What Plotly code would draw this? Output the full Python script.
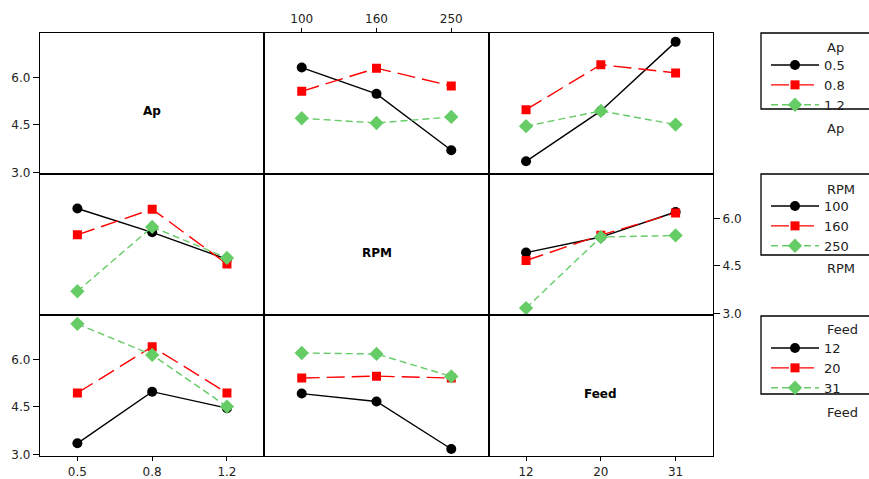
import plotly.graph_objects as go

factors = ["Ap", "RPM", "Feed"]
ap_levels = ["0.5", "0.8", "1.2"]
rpm_levels = ["100", "160", "250"]
feed_levels = ["12", "20", "31"]
levels = [ap_levels, rpm_levels, feed_levels]

# mean response tables: rows = levels of first factor, columns = levels of second factor
ap_rpm = [[6.31, 5.48, 3.70],
          [5.56, 6.29, 5.73],
          [4.71, 4.56, 4.75]]
ap_feed = [[3.35, 4.94, 7.12],
           [4.98, 6.40, 6.14],
           [4.46, 4.94, 4.51]]
rpm_feed = [[4.92, 5.41, 6.20],
            [4.67, 5.47, 6.17],
            [3.17, 5.41, 5.46]]
y_ticks = [3.0, 4.5, 6.0]

tables = {(0, 1): ap_rpm, (0, 2): ap_feed, (1, 2): rpm_feed}


def table(rf, cf):
    if (rf, cf) in tables:
        return tables[(rf, cf)]
    t = tables[(cf, rf)]
    return [[t[j][i] for j in range(3)] for i in range(3)]


W, H = 869, 479
ML, MR, MT, MB = 40, 156, 33, 23
PW, PH = W - ML - MR, H - MT - MB


def px(x):
    return (x - ML) / PW


def py(y):
    return (H - MB - y) / PH


colors = ["black", "#FF0000", "#66CC66"]
symbols = ["circle", "square", "diamond"]
dashes = ["solid", "18px,7px", "7px,4px"]
msizes = [10, 9, 11]
legend_names = ["legend", "legend2", "legend3"]

FONT = "DejaVu Sans"
TXT = "#222"
fig = go.Figure()
layout = {}

for r in range(3):
    for c in range(3):
        k = r * 3 + c + 1
        xa = "xaxis" if k == 1 else f"xaxis{k}"
        ya = "yaxis" if k == 1 else f"yaxis{k}"
        xr = "x" if k == 1 else f"x{k}"
        yr = "y" if k == 1 else f"y{k}"
        show_x = (r == 2 and c in (0, 2)) or (r == 0 and c == 1)
        show_y = (c == 0 and r in (0, 2)) or (c == 2 and r == 1)
        layout[xa] = dict(
            domain=[c / 3, (c + 1) / 3], anchor=yr, type="category",
            categoryorder="array", categoryarray=levels[c],
            range=[-0.5, 2.5], showline=True, mirror=True, linecolor="black",
            linewidth=1.3, showgrid=False, zeroline=False, automargin=False,
            showticklabels=show_x, ticks="outside" if show_x else "",
            ticklen=4, tickcolor="black", side="top" if (r == 0 and c == 1) else "bottom",
            tickfont=dict(family=FONT, size=12, color=TXT),
        )
        layout[ya] = dict(
            domain=[1 - (r + 1) / 3, 1 - r / 3], anchor=xr,
            range=[2.95, 7.4], showline=True, mirror=True, linecolor="black",
            linewidth=1.3, showgrid=False, zeroline=False, automargin=False,
            tickvals=y_ticks, tickformat=".1f",
            showticklabels=show_y, ticks="outside" if show_y else "",
            ticklen=6, tickcolor="black", side="right" if (c == 2 and r == 1) else "left",
            tickfont=dict(family=FONT, size=12, color=TXT),
        )
        if r == c:
            # invisible trace so the empty diagonal panel is drawn
            fig.add_trace(go.Scatter(
                x=levels[c], y=[None, None, None], xaxis=xr, yaxis=yr,
                mode="markers", showlegend=False, hoverinfo="skip",
            ))
            fig.add_annotation(
                xref=f"{xr} domain", yref=f"{yr} domain", x=0.5, y=0.5, yshift=-8,
                text=f"<b>{factors[r]}</b>", showarrow=False,
                font=dict(family=FONT, size=12, color="black"),
            )
            continue
        t = table(r, c)
        first = (c == 0) or (r == 0 and c == 1)
        for i in range(3):
            fig.add_trace(go.Scatter(
                x=levels[c], y=t[i], xaxis=xr, yaxis=yr, mode="lines+markers",
                name=levels[r][i], legend=legend_names[r], showlegend=first,
                line=dict(color=colors[i], width=1.4, dash=dashes[i]),
                marker=dict(color=colors[i], symbol=symbols[i], size=msizes[i]),
            ))

# legend boxes (pixel positions in the picture)
box_top = [33, 174, 316]
box_bot = [109, 255, 394]
title_y = [47, 189, 329]
label_y = [128, 268, 412]
legend_top = [50, 191, 333]

for r in range(3):
    layout[legend_names[r]] = dict(
        xref="paper", yref="paper",
        x=px(766), xanchor="left", y=py(legend_top[r]), yanchor="top",
        borderwidth=0, bgcolor="rgba(0,0,0,0)", itemwidth=48,
        font=dict(family=FONT, size=13, color=TXT),
        traceorder="normal", tracegroupgap=0,
    )
    fig.add_shape(
        type="rect", xref="paper", yref="paper",
        x0=px(761), x1=px(900), y0=py(box_bot[r]), y1=py(box_top[r]),
        line=dict(color="black", width=1.3), fillcolor="rgba(0,0,0,0)", layer="below",
    )
    fig.add_annotation(
        xref="paper", yref="paper", x=px(825), y=py(title_y[r]),
        xanchor="left", yanchor="middle", text=factors[r], showarrow=False,
        font=dict(family=FONT, size=13, color=TXT),
    )
    fig.add_annotation(
        xref="paper", yref="paper", x=px(825), y=py(label_y[r]),
        xanchor="left", yanchor="middle", text=factors[r], showarrow=False,
        font=dict(family=FONT, size=13, color=TXT),
    )

fig.update_layout(
    width=W, height=H, autosize=False,
    margin=dict(l=ML, r=MR, t=MT, b=MB),
    paper_bgcolor="white", plot_bgcolor="white",
    font=dict(family=FONT, size=12, color=TXT),
    **layout,
)

fig.write_html("out.html", config={"displayModeBar": False},
               post_script="document.body.style.margin='0';")
